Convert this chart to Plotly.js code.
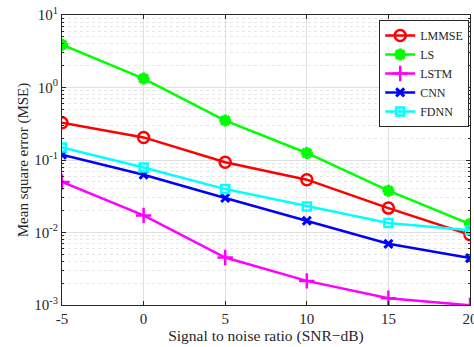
<!DOCTYPE html>
<html><head><meta charset="utf-8">
<script src="https://cdn.plot.ly/plotly-3.0.1.min.js"></script>
<style>html,body{margin:0;padding:0;background:#fff}</style>
</head><body>
<div id="chart" style="width:474px;height:347px"></div>
<script>
const snr = [-5, 0, 5, 10, 15, 20];
const lmmse = [0.327, 0.205, 0.093, 0.0535, 0.0217, 0.0093];
const ls = [3.9, 1.33, 0.35, 0.125, 0.0377, 0.0131];
const lstm = [0.0497, 0.0172, 0.00452, 0.00215, 0.00124, 0.00099];
const cnn = [0.118, 0.0627, 0.0299, 0.0145, 0.00698, 0.00443];
const fdnn = [0.149, 0.079, 0.0397, 0.0229, 0.0135, 0.0107];
const xTicks = [-5, 0, 5, 10, 15, 20];
const yTicks = [0.001, 0.01, 0.1, 1, 10];
const yTickText = ['10<sup>-3</sup>', '10<sup>-2</sup>', '10<sup>-1</sup>', '10<sup>0</sup>', '10<sup>1</sup>'];

const font = {family: 'Liberation Serif, Times New Roman, serif', color: '#262626'};
function f(s) { return Object.assign({size: s}, font); }
function tr(name, y, color, symbol, size, lw) {
  return {x: snr, y: y, name: name, type: 'scatter', mode: 'lines+markers',
    line: {color: color, width: 2.5},
    marker: {symbol: symbol, size: size, color: color, line: {color: color, width: lw}}};
}
const data = [
  tr('LMMSE', lmmse, '#ff0000', 'circle-open', 11, 2.5),
  tr('LS', ls, '#00ff00', 'asterisk-open', 10, 3.5),
  tr('LSTM', lstm, '#ff00ff', 'cross-thin-open', 11, 2.5),
  tr('CNN', cnn, '#0000ff', 'x-thin-open', 8, 3),
  tr('FDNN', fdnn, '#00ffff', 'square-open', 8, 2.5)
];
const layout = {
  width: 474, height: 347,
  margin: {l: 62, r: 4, t: 15, b: 42},
  paper_bgcolor: '#fff', plot_bgcolor: '#fff',
  font: f(14),
  showlegend: true,
  legend: {x: 0.998, y: 0.983, xanchor: 'right', yanchor: 'top',
    bgcolor: '#fff', bordercolor: '#262626', borderwidth: 1,
    font: f(12), tracegroupgap: 0, itemwidth: 30},
  xaxis: {range: [-5, 20], tickvals: xTicks, ticktext: xTicks.map(String),
    showline: true, mirror: 'ticks', linecolor: '#262626', linewidth: 1,
    ticks: 'inside', ticklen: 4, tickcolor: '#262626', ticklabeloverflow: 'allow',
    showgrid: true, gridcolor: '#e0e0e0', gridwidth: 1, zeroline: false,
    tickfont: f(15),
    title: {text: 'Signal to noise ratio (SNR\u2212dB)', font: f(15.5), standoff: 2}},
  yaxis: {type: 'log', range: [-3, 1], tickvals: yTicks, ticktext: yTickText,
    showline: true, mirror: 'ticks', linecolor: '#262626', linewidth: 1,
    ticks: 'inside', ticklen: 4, tickcolor: '#262626',
    showgrid: true, gridcolor: '#e0e0e0', gridwidth: 1, zeroline: false,
    tickfont: f(15),
    minor: {dtick: 'D1', ticks: 'inside', ticklen: 2, tickcolor: '#262626', showgrid: true, gridcolor: '#e6e6e6', griddash: 'dot', gridwidth: 1},
    title: {text: 'Mean square error (MSE)', font: f(15), standoff: 2}}
};
Plotly.newPlot('chart', data, layout, {displayModeBar: false, staticPlot: true});
</script>
</body></html>
